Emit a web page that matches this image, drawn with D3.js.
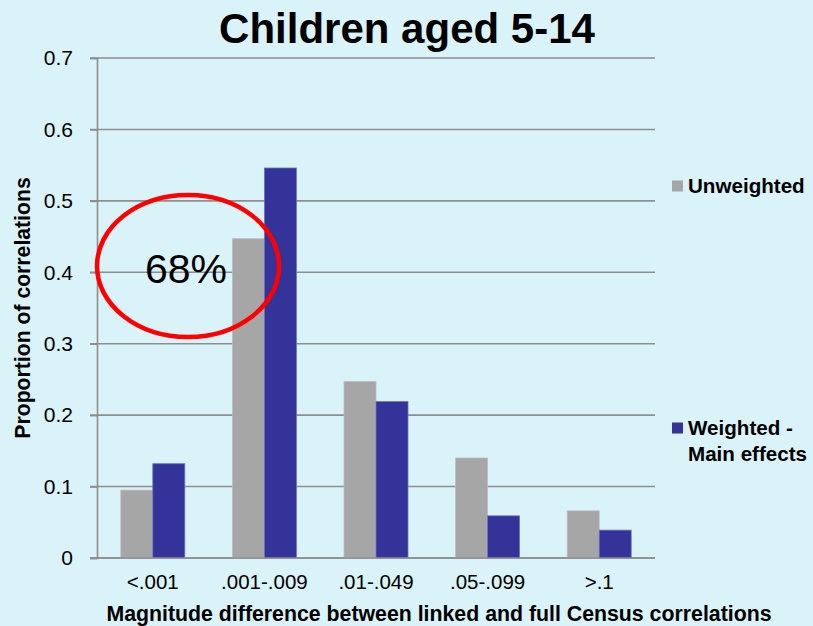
<!DOCTYPE html>
<html>
<head>
<meta charset="utf-8">
<script src="https://cdn.jsdelivr.net/npm/d3@7/dist/d3.min.js"></script>
<style>
  html, body { margin: 0; padding: 0; background: #daf3f8; }
  svg { display: block; font-family: "Liberation Sans", Arial, sans-serif; }
</style>
</head>
<body>
<svg id="chart" width="813" height="626"></svg>
<script>
// Share of correlations by magnitude of difference (linked vs full Census)
const categories = ["<.001", ".001-.009", ".01-.049", ".05-.099", ">.1"];
const seriesNames = ["Unweighted", "Weighted - Main effects"];
const unweighted = [0.095, 0.447, 0.247, 0.14, 0.066];
const weightedMain = [0.132, 0.546, 0.219, 0.059, 0.039];
const yTicks = [0, 0.1, 0.2, 0.3, 0.4, 0.5, 0.6, 0.7];
const calloutText = "68%";

const colors = { "Unweighted": "#a6a6a6", "Weighted - Main effects": "#333399" };
const strokes = { "Unweighted": "#bdbdbd", "Weighted - Main effects": "#6d70c6" };
const gridColor = "#8e8e8e";

const svg = d3.select("#chart");
const plot = { left: 97, right: 655, top: 58, bottom: 558 };

const y = d3.scaleLinear().domain([0, 0.7]).range([plot.bottom, plot.top]);
const x0 = d3.scaleBand().domain(categories).range([plot.left, plot.right]).padding(0);
const x1 = d3.scaleBand().domain(seriesNames).range([0, x0.bandwidth()])
  .paddingInner(0).paddingOuter(0.744);

const rows = categories.map((c, i) => ({
  cat: c,
  vals: [
    { s: seriesNames[0], v: unweighted[i] },
    { s: seriesNames[1], v: weightedMain[i] }
  ]
}));

// Horizontal gridlines (including the baseline)
svg.append("g")
  .selectAll("line")
  .data(yTicks)
  .join("line")
  .attr("x1", plot.left - 7)
  .attr("x2", plot.right)
  .attr("y1", d => y(d))
  .attr("y2", d => y(d))
  .attr("stroke", gridColor)
  .attr("stroke-width", 1.6);

// Y axis labels and line
const yAxis = d3.axisLeft(y).tickValues(yTicks).tickSize(7).tickPadding(17)
  .tickFormat(d => d === 0 ? "0" : d3.format(".1f")(d));
const gy = svg.append("g").attr("transform", `translate(${plot.left},0)`).call(yAxis);
gy.select(".domain").attr("stroke", gridColor).attr("stroke-width", 1.6);
gy.selectAll(".tick line").attr("stroke", gridColor).attr("stroke-width", 1.6);
gy.selectAll(".tick text").attr("fill", "#000").style("font-size", "21px")
  .style("font-family", "'Liberation Sans', Arial, sans-serif");

// Bars
svg.append("g")
  .selectAll("g")
  .data(rows)
  .join("g")
  .attr("transform", d => `translate(${x0(d.cat)},0)`)
  .selectAll("rect")
  .data(d => d.vals)
  .join("rect")
  .attr("x", d => x1(d.s))
  .attr("width", x1.bandwidth())
  .attr("y", d => y(d.v))
  .attr("height", d => y(0) - y(d.v))
  .attr("fill", d => colors[d.s])
  .attr("stroke", d => strokes[d.s])
  .attr("stroke-width", 0.8);

// Redraw baseline over bars
svg.append("line")
  .attr("x1", plot.left - 7).attr("x2", plot.right)
  .attr("y1", y(0)).attr("y2", y(0))
  .attr("stroke", gridColor).attr("stroke-width", 1.6);

// X axis category labels
const xAxis = d3.axisBottom(x0).tickSize(0).tickPadding(16);
const gx = svg.append("g").attr("transform", `translate(0,${plot.bottom})`).call(xAxis);
gx.select(".domain").remove();
gx.selectAll(".tick text").attr("fill", "#000").style("font-size", "20.5px")
  .style("font-family", "'Liberation Sans', Arial, sans-serif");

// Title
svg.append("text")
  .attr("x", 407).attr("y", 43)
  .attr("text-anchor", "middle")
  .style("font-size", "42px").style("font-weight", "bold")
  .text("Children aged 5-14");

// Axis titles
svg.append("text")
  .attr("x", 439).attr("y", 621)
  .attr("text-anchor", "middle")
  .style("font-size", "21.3px").style("font-weight", "bold")
  .text("Magnitude difference between linked and full Census correlations");

svg.append("text")
  .attr("transform", "translate(30,308) rotate(-90)")
  .attr("text-anchor", "middle")
  .style("font-size", "21.2px").style("font-weight", "bold")
  .text("Proportion of correlations");

// Legend
const legendItems = [
  { name: seriesNames[0], lines: ["Unweighted"], y: 186 },
  { name: seriesNames[1], lines: ["Weighted -", "Main effects"], y: 428 }
];
const lg = svg.append("g");
legendItems.forEach(it => {
  lg.append("rect")
    .attr("x", 672).attr("y", it.y - 5.5)
    .attr("width", 11).attr("height", 11)
    .attr("fill", colors[it.name]);
  const t = lg.append("text")
    .attr("x", 688).attr("y", it.y + 7)
    .style("font-size", "20.6px").style("font-weight", "bold");
  it.lines.forEach((ln, i) => {
    t.append("tspan").attr("x", 688).attr("dy", i === 0 ? 0 : 26).text(ln);
  });
});

// Callout: ellipse with share label
svg.append("ellipse")
  .attr("cx", 188).attr("cy", 266)
  .attr("rx", 91).attr("ry", 71)
  .attr("fill", "none")
  .attr("stroke", "#ff0000")
  .attr("stroke-width", 4.5);

svg.append("text")
  .attr("x", 145).attr("y", 283)
  .style("font-size", "41px")
  .text(calloutText);
</script>
</body>
</html>
